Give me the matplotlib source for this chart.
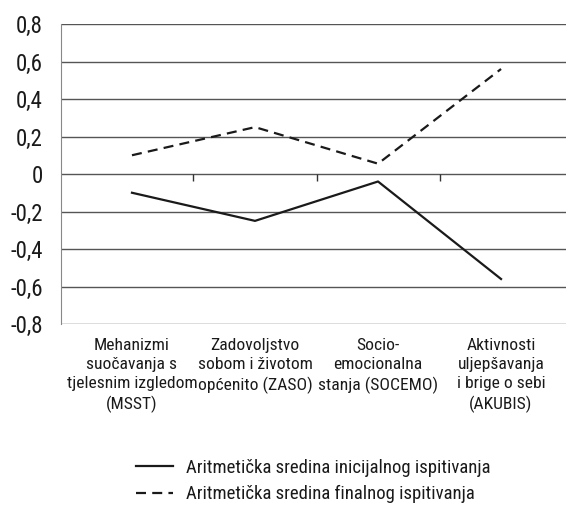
import matplotlib
matplotlib.use("Agg")
import matplotlib.pyplot as plt

plt.rcParams['font.family'] = ['Roboto Condensed', 'PT Sans Narrow', 'DejaVu Sans']
plt.rcParams['font.stretch'] = 'condensed'

categories = [
    'Mehanizmi\nsuočavanja s\ntjelesnim izgledom\n(MSST)',
    'Zadovoljstvo\nsobom i životom\nopćenito (ZASO)',
    'Socio-\nemocionalna\nstanja (SOCEMO)',
    'Aktivnosti\nuljepšavanja\ni brige o sebi\n(AKUBIS)',
]
initial = [-0.10, -0.25, -0.04, -0.56]
final = [0.10, 0.25, 0.055, 0.56]
yticks = [-0.8, -0.6, -0.4, -0.2, 0, 0.2, 0.4, 0.6, 0.8]
ytick_labels = ['-0,8', '-0,6', '-0,4', '-0,2', '0', '0,2', '0,4', '0,6', '0,8']
separators = [1.5, 2.5, 3.5]

W, H = 566, 516
fig = plt.figure(figsize=(W / 100, H / 100), dpi=100)
ax = fig.add_axes([61 / W, 1 - 324 / H, 505 / W, 300 / H])

x = [1, 2, 3, 4]
ax.plot(x, initial, color='#1a1a1a', lw=1.6, label='Aritmetička sredina inicijalnog ispitivanja')
ax.plot(x, final, color='#1a1a1a', lw=1.6, dashes=(4.5, 2.8),
        label='Aritmetička sredina finalnog ispitivanja')

ax.set_ylim(-0.8, 0.8)
ax.set_xlim(0.423, 4.528)
ax.set_yticks(yticks)
ax.set_yticklabels(ytick_labels, fontsize=16.5)
ax.tick_params(axis='y', length=0, pad=13, colors='#1a1a1a')
ax.yaxis.grid(True, color='#555555', lw=1)
ax.set_axisbelow(True)

ax.set_xticks(x)
ax.set_xticklabels(categories, fontsize=12.6, linespacing=1.33)
ax.tick_params(axis='x', length=0, pad=10, colors='#1a1a1a')

for s in ['top', 'right', 'bottom']:
    ax.spines[s].set_visible(False)
ax.spines['left'].set_color('#888888')

# category separators hanging below the zero line
ax.vlines(separators, 0.5 - 7 / 300, 0.5, transform=ax.get_xaxis_transform(),
          color='#333333', lw=1)

fig.legend(loc='center', bbox_to_anchor=(313 / W, 1 - 481 / H), frameon=False,
           fontsize=13.5, handlelength=2.0, handletextpad=0.65, labelspacing=0.45,
           labelcolor='#1a1a1a')

fig.savefig('out.png', dpi=100)
